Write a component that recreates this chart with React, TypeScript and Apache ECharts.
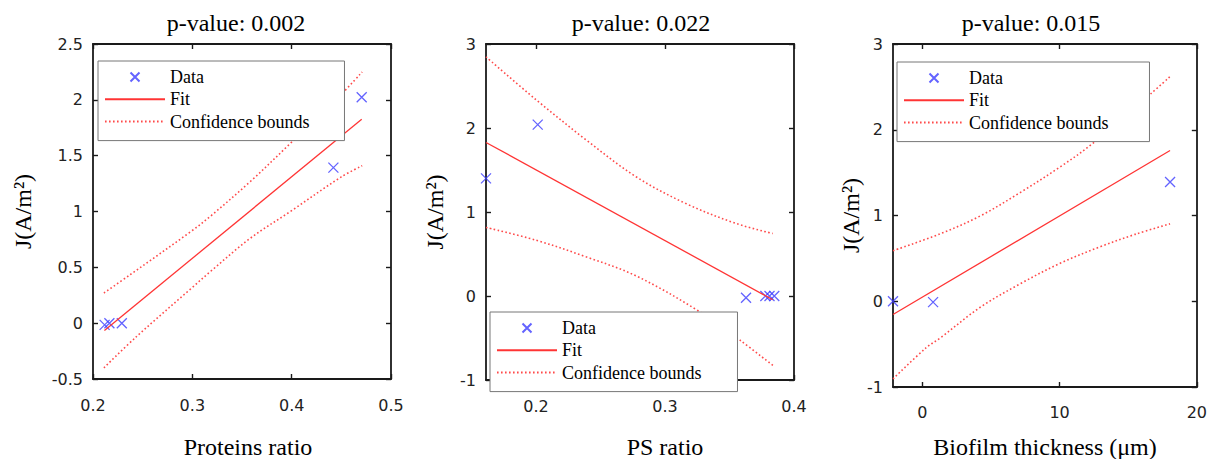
import React, { useEffect, useRef } from "react";
import * as echarts from "echarts";

// ---------- text ----------
const titles = ["p-value: 0.002", "p-value: 0.022", "p-value: 0.015"];
const xNames = ["Proteins ratio", "PS ratio", "Biofilm thickness (\u03bcm)"];
const yName = "J(A/m\u00b2)";
const legendNames = ["Data", "Fit", "Confidence bounds"];

// ---------- panel 1 : Proteins ratio ----------
const p1DataX = [0.2117, 0.2165, 0.229, 0.442, 0.4705];
const p1DataY = [-0.015, 0, 0, 1.393, 2.023];
const p1FitX = [0.2115, 0.4705];
const p1FitY = [-0.066, 1.826];
const p1UpperX = [0.211, 0.2371, 0.3, 0.3179, 0.3583, 0.3987, 0.45, 0.471];
const p1UpperY = [0.27, 0.432, 0.83, 0.955, 1.268, 1.61, 2.05, 2.25];
const p1LowerX = [0.211, 0.2438, 0.3, 0.3179, 0.3583, 0.3987, 0.45, 0.471];
const p1LowerY = [-0.4, -0.12, 0.32, 0.46, 0.76, 1.0, 1.31, 1.41];
const p1XTicks = [0.2, 0.3, 0.4, 0.5];
const p1YTicks = [-0.5, 0, 0.5, 1, 1.5, 2, 2.5];
const p1XRange = [0.2, 0.5];
const p1YRange = [-0.5, 2.5];

// ---------- panel 2 : PS ratio ----------
const p2DataX = [0.1612, 0.2013, 0.3628, 0.3778, 0.381, 0.3847];
const p2DataY = [1.4, 2.04, -0.02, 0, 0, 0];
const p2FitX = [0.1612, 0.3835];
const p2FitY = [1.828, -0.044];
const p2UpperX = [0.1612, 0.2, 0.2388, 0.2775, 0.3163, 0.355, 0.3835];
const p2UpperY = [2.847, 2.337, 1.859, 1.42, 1.1, 0.864, 0.744];
const p2LowerX = [0.1612, 0.2, 0.2388, 0.2775, 0.3253, 0.3576, 0.3847];
const p2LowerY = [0.816, 0.664, 0.466, 0.24, -0.172, -0.52, -0.84];
const p2XTicks = [0.2, 0.3, 0.4];
const p2YTicks = [-1, 0, 1, 2, 3];
const p2XRange = [0.1612, 0.4];
const p2YRange = [-1, 3];

// ---------- panel 3 : Biofilm thickness ----------
const p3DataX = [-2.14, 0.78, 18.05];
const p3DataY = [0, -0.01, 1.39];
const p3FitX = [-2.14, 18.05];
const p3FitY = [-0.155, 1.758];
const p3UpperX = [-2.14, 1.29, 4.22, 7.15, 10.07, 12.39, 16.65, 18.05];
const p3UpperY = [0.59, 0.786, 0.995, 1.27, 1.57, 1.837, 2.42, 2.62];
const p3LowerX = [-2.14, 0.29, 1.29, 4.22, 7.15, 10.07, 13.0, 15.5, 18.05];
const p3LowerY = [-0.906, -0.54, -0.43, -0.07, 0.205, 0.445, 0.638, 0.78, 0.903];
const p3XTicks = [0, 10, 20];
const p3YTicks = [-1, 0, 1, 2, 3];
const p3XRange = [-2.14, 20];
const p3YRange = [-1, 3];

const zip = (xs: number[], ys: number[]) => xs.map((x, i) => [x, ys[i]]);

const panels = [
  {
    data: zip(p1DataX, p1DataY), fit: zip(p1FitX, p1FitY),
    upper: zip(p1UpperX, p1UpperY), lower: zip(p1LowerX, p1LowerY),
    xTicks: p1XTicks, yTicks: p1YTicks, xRange: p1XRange, yRange: p1YRange,
  },
  {
    data: zip(p2DataX, p2DataY), fit: zip(p2FitX, p2FitY),
    upper: zip(p2UpperX, p2UpperY), lower: zip(p2LowerX, p2LowerY),
    xTicks: p2XTicks, yTicks: p2YTicks, xRange: p2XRange, yRange: p2YRange,
  },
  {
    data: zip(p3DataX, p3DataY), fit: zip(p3FitX, p3FitY),
    upper: zip(p3UpperX, p3UpperY), lower: zip(p3LowerX, p3LowerY),
    xTicks: p3XTicks, yTicks: p3YTicks, xRange: p3XRange, yRange: p3YRange,
  },
];

// ---------- layout ----------
const grids = [
  { left: 93, top: 44, width: 298, height: 335 },
  { left: 486, top: 44, width: 308, height: 336 },
  { left: 893, top: 44, width: 304, height: 343 },
];
const titleCenters = [236, 641, 1031];
const yNameGaps = [58, 39, 30];
const xNameCenters = [248, 665, 1045];
const xNameY = 447;
const xLabelMargins = [18, 18, 17];
const legendPos = [
  { left: 98, top: 61, padR: 35 },
  { left: 490, top: 312, padR: 36 },
  { left: 897, top: 62, padR: 41 },
];

const SERIF = '"Liberation Serif", "Times New Roman", serif';
const SANS = '"DejaVu Sans", sans-serif';
const BLUE = "#3c3cff";
const RED = "#ff3434";
const FRAME = "#1a1a1a";
const CROSS = "path://M0,0L10,10M10,0L0,10";

function buildOption() {
  const xAxis: any[] = [];
  const yAxis: any[] = [];
  const series: any[] = [];
  const frameLine = { show: true, onZero: false, lineStyle: { color: FRAME, width: 1.8 } };
  panels.forEach((p, i) => {
    const tick = {
      show: true,
      inside: true,
      length: 5,
      customValues: p.xTicks,
      lineStyle: { color: FRAME, width: 1.4 },
    };
    const labelStyle = { fontFamily: SANS, fontSize: 16, color: "#222" };
    xAxis.push({
      type: "value",
      gridIndex: i,
      position: "bottom",
      min: p.xRange[0],
      max: p.xRange[1],
      axisLine: frameLine,
      splitLine: { show: false },
      axisTick: tick,
      axisLabel: { customValues: p.xTicks, margin: xLabelMargins[i], ...labelStyle },
    });
    xAxis.push({
      type: "value",
      gridIndex: i,
      position: "top",
      min: p.xRange[0],
      max: p.xRange[1],
      axisLine: frameLine,
      splitLine: { show: false },
      axisTick: tick,
      axisLabel: { show: false },
    });
    const ytick = { ...tick, customValues: p.yTicks };
    yAxis.push({
      type: "value",
      gridIndex: i,
      position: "left",
      min: p.yRange[0],
      max: p.yRange[1],
      axisLine: frameLine,
      splitLine: { show: false },
      axisTick: ytick,
      axisLabel: { customValues: p.yTicks, margin: 10, ...labelStyle },
      name: yName,
      nameLocation: "middle",
      nameGap: yNameGaps[i],
      nameTextStyle: { fontFamily: SERIF, fontSize: 24, color: "#000" },
    });
    yAxis.push({
      type: "value",
      gridIndex: i,
      position: "right",
      min: p.yRange[0],
      max: p.yRange[1],
      axisLine: frameLine,
      splitLine: { show: false },
      axisTick: ytick,
      axisLabel: { show: false },
    });
    const ax = { xAxisIndex: 2 * i, yAxisIndex: 2 * i };
    const boundStyle = { color: "#ff4a4a", width: 1.6, type: [1.6, 2.4] };
    series.push({
      type: "line", name: legendNames[2], ...ax, data: p.upper, smooth: 0.35,
      symbol: "none", clip: true, itemStyle: { color: RED }, lineStyle: boundStyle,
    });
    series.push({
      type: "line", name: legendNames[2], ...ax, data: p.lower, smooth: 0.35,
      symbol: "none", clip: true, itemStyle: { color: RED }, lineStyle: boundStyle,
    });
    series.push({
      type: "line", name: legendNames[1], ...ax, data: p.fit,
      symbol: "none", clip: true, itemStyle: { color: RED },
      lineStyle: { color: RED, width: 1.3 },
    });
    series.push({
      type: "scatter", name: legendNames[0], ...ax, data: p.data,
      symbol: CROSS, symbolSize: 10,
      itemStyle: { color: BLUE, borderColor: BLUE, borderWidth: 1.3 },
    });
  });

  return {
    animation: false,
    backgroundColor: "#fff",
    title: titles.map((t, i) => ({
      text: t,
      left: titleCenters[i],
      top: 11,
      padding: 0,
      textAlign: "center",
      textStyle: { fontFamily: SERIF, fontSize: 24, fontWeight: "normal", color: "#000" },
    })),
    grid: grids.map((g) => ({ ...g, show: false, containLabel: false })),
    legend: legendPos.map((lp) => ({
      left: lp.left,
      top: lp.top,
      orient: "vertical",
      data: [
        { name: legendNames[0] },
        { name: legendNames[1], itemStyle: { opacity: 0 } },
        { name: legendNames[2], itemStyle: { opacity: 0 } },
      ],
      itemWidth: 60,
      itemHeight: 9,
      itemGap: 0.3,
      padding: [5, lp.padR, 8, 6],
      borderColor: "#777",
      borderWidth: 1,
      borderRadius: 0,
      backgroundColor: "#fff",
      selectedMode: false,
      textStyle: { fontFamily: SERIF, fontSize: 18, color: "#000", lineHeight: 22 },
    })),
    graphic: xNames.map((n, i) => ({
      type: "text",
      x: xNameCenters[i],
      y: xNameY,
      silent: true,
      style: {
        text: n,
        fontFamily: SERIF,
        fontSize: 24,
        fill: "#000",
        align: "center",
        verticalAlign: "middle",
      },
    })),
    xAxis,
    yAxis,
    series,
  };
}

export default function App() {
  const ref = useRef<HTMLDivElement>(null);
  useEffect(() => {
    if (!ref.current) return;
    const chart = echarts.init(ref.current, undefined, { renderer: "svg" });
    chart.setOption(buildOption() as any);
    return () => chart.dispose();
  }, []);
  return (
    <div
      ref={ref}
      style={{ position: "absolute", left: 0, top: 0, width: 1210, height: 459, background: "#fff" }}
    />
  );
}
